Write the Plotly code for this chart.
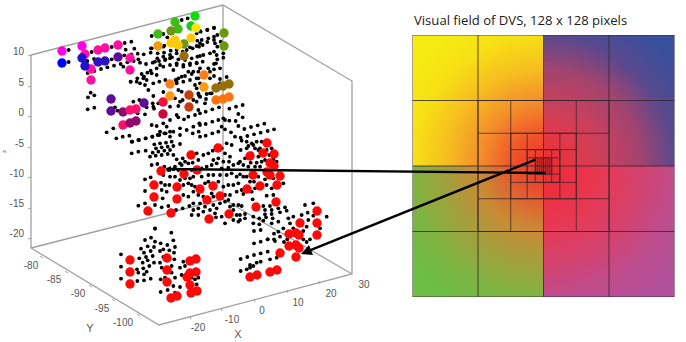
import numpy as np
import plotly.graph_objects as go

# ---------- left panel: projected position on the page (px) ----------
big_x = [62,82,85,98,105,118,130,91,130,91,62,82,85,98,105,118,111,111,144,123,130,136,123,130,136,163,163,
         170,170,189,189,158,158,175,178,171,191,195,196,191,184,184,175,171,178,204,204,224,224,
         216,223,229,216,223,229,218,267,250,263,274,270,274,191,161,184,197,154,177,200,213,154,177,207,220,148,171,209,229,
         267,270,253,280,260,277,247,276,256,317,300,317,317,289,296,299,289,296,299,280,296,277,270,257,250,
         130,130,130,167,167,167,171,177,190,196,187,190,196,190,191,197]
big_y = [51,46,54,50,48,45,58,69,70,80,63,58,66,62,61,57,99,111,103,112,110,109,125,123,121,102,114,
         84,96,95,107,34,46,22,29,31,26,16,28,38,44,56,40,43,45,75,87,33,46,
         88,86,84,100,99,97,148,143,156,153,154,163,166,155,171,174,170,185,187,189,186,197,199,200,196,211,213,219,214,
         172,175,175,176,186,185,189,202,207,211,223,223,235,234,233,235,246,245,248,253,257,270,272,275,277,
         260,272,284,258,270,282,298,296,261,259,277,273,272,285,293,291]
M, B1, B2, P, PK, MR, R2, RD, O1, O2, BO = "#ff00e6", "#2410d0", "#3010c0", "#5f0a9a", "#ff10a0", "#8f0a6a", "#ff0f70", "#c80a3c", "#ff7f14", "#ff9a0a", "#c83c0a"
G, OL, YL, AM, BR, LG, OR = "#3cbe14", "#6e9614", "#ffc80a", "#f59a0a", "#966e0a", "#6a9a0a", "#ff7310"
RED = "#ff0808"
big_color = [M,M,"#ff10b0",PK,PK,PK,PK,PK,PK,PK,"#0000ff",B1,B1,B2,B2,P,P,P,P,"#8f0a6e",R2,R2,R2,MR,MR,"#ff0a3c",RD,
             O1,O2,BO,BO,G,AM,G,G,OL,"#1ec81e","#0edc0e","#ffe60a",YL,OL,BR,YL,YL,YL,O1,O2,LG,LG,
             BR,BR,BR,OR,OR,OR] + [RED] * 69

# small dots, listed per region (region x, region y at 3x)
a_x = [206,206,335,374,394,377,403,275,262,282,335,373,394,413,431,452,453,473,493,510,472,490,510,530,548,263,283,303,322,342,362,382,401,420,438,415,458,477,496,516,535,560,578,597,425,442,412,432,392,452,470,490,510,530,550,570,590,440,460,478,496,420,435,535,555,575,595,530,550,570,590,535,590,596,272,283,264,263,283,345,353,400,418,460,445,458,440,462,435,413,490,527,510,535,590,595,548,530,510,490,470,455,535,552,565,585,598,580,560,540,520,500,480,320,340,349,368,388,397,417,437,457,478,497,510,540,578,596]
a_y = [150,186,141,129,125,149,146,156,183,177,178,166,163,161,163,158,145,142,137,134,175,170,165,160,155,219,213,207,202,197,192,187,183,188,192,178,188,183,178,172,178,150,145,140,222,218,235,230,245,212,205,200,195,190,200,195,190,240,250,245,240,250,255,235,228,222,215,250,245,240,235,270,265,285,278,286,292,328,323,322,332,305,300,288,270,310,322,326,343,340,276,240,320,318,305,330,300,345,360,370,378,375,352,358,350,345,370,380,390,385,395,380,395,397,385,415,410,407,425,420,415,410,405,400,410,405,400,395]
b_x = [0,22,42,52,0,22,42,52,42,52,70,42,0,0,60,80,42,60,20,18,0,35,37,57,17,0,88,108,128,115,128,107,88,70,55,37,17,0,75,65,75,55,37,17,0,93,105,115,133,153,173,193,203,222,182,162,142,122]
b_y = [93,89,84,105,130,126,120,140,155,178,173,192,168,205,237,231,228,250,282,297,290,280,328,322,335,340,326,320,315,342,352,363,362,355,360,365,372,375,360,380,388,395,400,407,410,397,410,378,387,381,376,371,393,388,398,403,408,413]
c_x = [5,25,47,67,83,103,120,73,90,108,125,78,95,113,130,150,68,85,103,120,60,77,95,113,5,25,47,130,140,158,165,150,135,155,175,188,200,205,220,235,248,275,290,305,285,300,250,265,280,297,65,82,103,115,130,145,185,215,230,245,260,275,295,310,325,45,62,100,120,135,150,165,180,190,215,235,250,270,290,305,320,45,93,105,118,160,175,185,195,225,235,265,280,295,310,325,98,95,110,160,175,190,205,220,245,250,285,300,320,25,45,75,95,115,138,158,178,190,210,190,205,225,250,270,285,295,310,325,75,185,205,220,240,258,275,300,310,320,325,285,310,260,255]
c_y = [65,60,55,50,45,40,35,73,70,68,65,85,82,80,78,72,98,95,92,90,110,107,105,102,100,95,92,105,118,115,125,130,140,135,130,128,100,120,105,100,92,85,70,75,100,110,120,115,125,125,135,132,140,150,148,150,150,145,140,135,130,145,143,135,130,178,172,165,170,170,180,175,175,170,170,165,165,165,165,160,170,213,188,195,195,195,190,195,200,190,185,185,200,195,195,190,235,210,215,225,230,215,225,230,220,230,225,225,215,257,250,255,262,258,270,265,258,250,250,270,265,260,255,250,245,240,255,255,325,285,285,275,270,292,290,260,270,285,305,310,300,265,280]
d_x = [32,50,70,35,50,65,80,95,55,75,90,65,85,45,30,62,80,95,105,85,110,125,118,130,40,55,75,90,140,30,50,40,105,130,85,60,72,110,125,160,35,65,75,40,110,130,68,35,100,120,145,165,105,125,150,170,105,125,70,88,108,128,45,30,45,30,70,88,100,125,145,175,190,225,250,233,290,250,215,235,180,160,230,190,270]
d_y = [90,85,75,62,65,70,65,65,78,85,85,100,110,115,125,128,128,125,120,90,90,85,105,118,135,140,140,140,125,163,170,170,178,175,170,185,185,195,205,190,210,215,205,222,227,225,238,258,258,258,265,262,270,270,277,272,283,282,290,295,292,295,282,285,295,300,310,313,302,310,305,295,290,255,250,278,290,287,285,300,310,325,320,325,325]
e_x = [162,182,203,222,235,222,203,182,162,225,240,252,262,310,320,330,310,122,142,162,182,203,230,210,182,170,150,122,140,150,160]
e_y = [180,177,205,205,182,188,205,212,217,210,197,213,205,205,213,205,180,264,258,252,247,242,260,265,272,275,282,300,295,290,285]
f_x = [465,514,435,453,465,482,502,520,525,423,443,462,432,452,418,438,458,480,490,508,522,523,443,428,462,363,363,363,411,430,448,415,432,440,412,432,452,490,480,485,482,495,482,503,520,540,525,525,515,515,550,555,545,540,585,595,590,575]
f_y = [173,185,207,200,212,217,222,208,228,233,226,228,245,240,262,258,255,240,235,238,245,265,268,275,275,250,287,323,295,292,285,305,310,302,330,328,323,258,275,290,325,320,363,357,345,348,365,320,305,285,272,285,312,290,325,320,340,320]
g_x = [215,233,125,160,172,260,272,292,312,262,275,295,312,125,160,143,162,182,200,240,260,278,315,332,320,340,318,312,330,225,245,262,280,300,200,220,240,260,278,295,250,235,215,200,265,270,300,300,150,135,165,180,190,140,125,80,100,62,60,40,255,265,270,300,215,195,210,250,285,145,130]
g_y = [30,25,78,72,82,70,65,60,53,92,90,85,80,115,110,130,128,122,120,112,108,105,100,95,135,130,160,178,175,150,145,140,135,130,165,165,160,158,155,175,185,185,200,215,205,220,205,185,165,155,150,145,180,195,190,215,205,215,175,170,225,250,260,250,245,265,275,270,280,280,290]

# ---------- left panel: box and tick text ----------
box_x = [31,223,352,352,159,31,31,None,223,223,None,31,223,352]
box_y = [55,5,81,274,325,248,55,None,5,199,None,248,199,274]
z_labels = ["10","5","0","-5","-10","-15","-20"]
z_label_y = [52,83,113,144,174,204,234]
y_labels = ["-80","-85","-90","-95","-100"]
y_label_x = [31,54,78,102,123]
y_label_y = [266,280,294,309,323]
x_labels = ["-20","-10","0","10","20","30"]
x_label_x = [198,232,262,298,331,364]
x_label_y = [328,320,311,303,294,285]
tick_x = [31,28,None,31,28,None,31,28,None,31,28,None,31,28,None,31,28,None,31,28,None,
          43,40,None,68,65,None,92,89,None,115,112,None,140,137,None,
          191,190,None,222,221,None,255,254,None,288,287,None,320,319,None]
tick_y = [55,56,None,86,87,None,116,117,None,147,148,None,177,178,None,208,209,None,238,239,None,
          258,256,None,273,271,None,287,285,None,301,299,None,316,314,None,
          319,316,None,311,308,None,302,299,None,293,290,None,284,281,None]

# ---------- right panel: visual field colours ----------
radius_stops = [0,16,32,48,64,80,91]
quad_tl = ["#ee2a2e","#f0562a","#f3902a","#f6be20","#f7e015","#f6ec13","#f6ec13"]
quad_tr = ["#ee2a2e","#e03a4a","#c5405f","#a04470","#58498e","#3a4f9c","#33509f"]
quad_bl = ["#ee2a2e","#e55a2e","#c98a36","#a2a03c","#7fb342","#6cbe45","#6cbe45"]
quad_br = ["#ee2a2e","#ec3145","#e53a58","#d3426f","#be4c8c","#b2519b","#b2519b"]
outer_cells = [0,32,64,96,128]
ring16 = [32,48,80,96]
ring8 = [48,56,72,80]
ring4 = [56,60,68,72]

def rgb(h):
    return [int(h[i:i+2],16) for i in (1,3,5)]
def channel_table(q):
    return np.array([rgb(c) for c in q],float)
N = 256
c = (np.arange(N)+.5)*128/N
X,Y = np.meshgrid(c,c)
D = np.hypot(X-64,Y-64)
img = np.zeros((N,N,3))
for q,mask in ((quad_tl,(X<64)&(Y<64)),(quad_tr,(X>=64)&(Y<64)),(quad_bl,(X<64)&(Y>=64)),(quad_br,(X>=64)&(Y>=64))):
    t = channel_table(q)
    for k in range(3):
        img[...,k][mask] = np.interp(D[mask],radius_stops,t[:,k])

def grid_lines(levels,lo,hi):
    xs,ys=[],[]
    for v in levels:
        xs+=[v,v,None,lo,hi,None]; ys+=[lo,hi,None,v,v,None]
    return xs,ys

fig = go.Figure()
fig.add_trace(go.Scatter(x=box_x,y=box_y,mode="lines",line=dict(color="#a0a0a0",width=1.3),hoverinfo="skip"))
fig.add_trace(go.Scatter(x=tick_x,y=tick_y,mode="lines",line=dict(color="#a0a0a0",width=1),hoverinfo="skip"))

sx,sy=[],[]
for xs,ys,ox,oy in ((a_x,a_y,0,0),(b_x,b_y,200,0),(c_x,c_y,130,120),(d_x,d_y,230,120),(e_x,e_y,200,171),(f_x,f_y,0,171),(g_x,g_y,110,10)):
    sx+=[ox+v/3 for v in xs]; sy+=[oy+v/3 for v in ys]
fig.add_trace(go.Scatter(x=sx,y=sy,mode="markers",marker=dict(color="black",size=3.8),hoverinfo="skip"))
fig.add_trace(go.Scatter(x=big_x,y=big_y,mode="markers",marker=dict(color=big_color,size=9.4),hoverinfo="skip"))

tick_font=dict(family="Liberation Sans",size=10,color="#555555")
fig.add_trace(go.Scatter(x=[24]*7,y=z_label_y,mode="text",text=z_labels,textposition="middle left",textfont=tick_font))
fig.add_trace(go.Scatter(x=y_label_x,y=y_label_y,mode="text",text=y_labels,textposition="middle center",textfont=tick_font))
fig.add_trace(go.Scatter(x=x_label_x,y=x_label_y,mode="text",text=x_labels,textposition="middle center",textfont=tick_font))
fig.add_trace(go.Scatter(x=[90,238],y=[329,335],mode="text",text=["Y","X"],textposition="middle center",
                         textfont=dict(family="Liberation Sans",size=11,color="#555555")))

fig.add_trace(go.Image(z=img,x0=c[0],y0=c[0],dx=128/N,dy=128/N,xaxis="x2",yaxis="y2",hoverinfo="skip"))
line_sets=[(outer_cells,0,128,1.0),(ring16,32,96,.9),(ring8,48,80,.9),(ring4,56,72,.9),(list(range(60,69)),60,68,.55)]
for lv,lo,hi,w in line_sets:
    gx,gy=grid_lines(lv,lo,hi)
    fig.add_trace(go.Scatter(x=gx,y=gy,mode="lines",xaxis="x2",yaxis="y2",
                             line=dict(color="rgba(50,35,40,0.8)",width=w),hoverinfo="skip"))

arrows=[(165,169,547,173,.5),(301,254,537,159,.9)]
for tx,ty,sx0,sy0,hs in arrows:
    fig.add_annotation(x=tx,y=ty,ax=sx0,ay=sy0,xref="x",yref="y",axref="x",ayref="y",text="",showarrow=True,
                       arrowhead=2,arrowsize=hs,arrowwidth=2.4,arrowcolor="black")
fig.add_annotation(x=412,y=20,xref="x",yref="y",text="Visual field of DVS, 128 x 128 pixels",showarrow=False,xanchor="left",
                   font=dict(family="Open Sans",size=13.1,color="#1a1a1a"))
fig.add_annotation(x=4,y=152,xref="x",yref="y",text="z",showarrow=False,textangle=-90,
                   font=dict(family="Liberation Sans",size=6,color="#555555"))

hide=dict(visible=False,showgrid=False,zeroline=False)
fig.update_layout(width=686,height=342,margin=dict(l=0,r=0,t=0,b=0),paper_bgcolor="white",plot_bgcolor="rgba(0,0,0,0)",showlegend=False,
    xaxis=dict(range=[0,686],domain=[0,1],**hide),yaxis=dict(range=[342,0],domain=[0,1],**hide),
    xaxis2=dict(range=[0,128],domain=[412/686,675/686],anchor="y2",**hide),
    yaxis2=dict(range=[128,0],domain=[1-297/342,1-35/342],anchor="x2",**hide))
fig.write_html("out.html",config=dict(displayModeBar=False),
               post_script="document.body.style.margin='0';document.documentElement.style.overflow='hidden';")
